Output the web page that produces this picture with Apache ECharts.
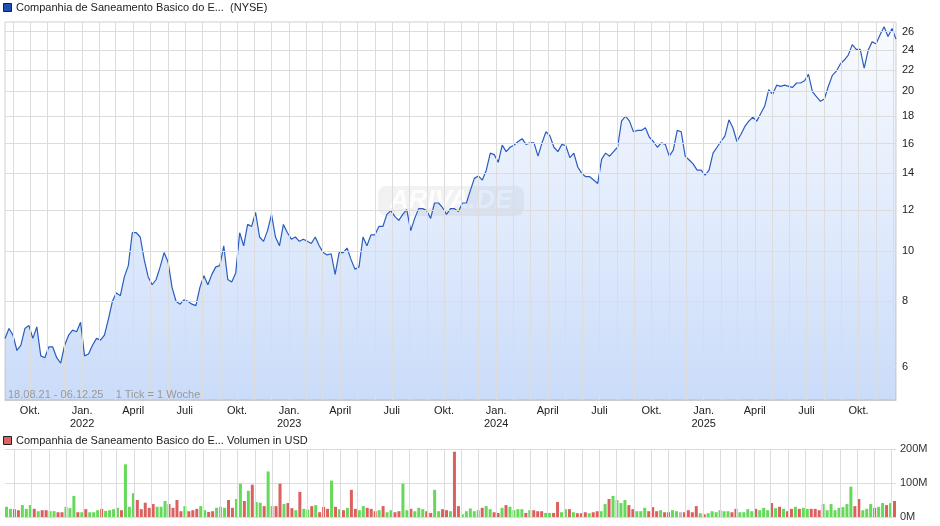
<!DOCTYPE html>
<html>
<head>
<meta charset="utf-8">
<script src="https://cdn.jsdelivr.net/npm/echarts@6/dist/echarts.min.js"></script>
<style>
  html, body { margin: 0; padding: 0; background: #fff; }
  #chart { width: 940px; height: 526px; }
</style>
</head>
<body>
<div id="chart"></div>
<script>
// weekly closing prices in USD, 18.08.21 - 06.12.25
const prices = [
  6.8, 7.1, 6.9, 6.45, 6.6, 7.1, 7.2, 6.8, 7.15, 6.3, 6.25, 6.55, 6.55, 6.25, 6.1, 6.6,
  6.9, 7.05, 7.0, 7.3, 6.3, 6.35, 6.6, 6.8, 6.75, 6.9, 7.4, 8.0, 8.3, 8.2, 8.9, 9.35,
  10.8, 10.8, 10.6, 9.6, 8.9, 8.6, 8.8, 9.3, 9.9, 9.5, 8.5, 8.0, 7.9, 8.05, 8.0, 7.9,
  7.85, 8.5, 8.95, 8.6, 9.0, 9.3, 9.35, 10.2, 8.8, 8.7, 9.05, 10.8, 10.2, 11.2, 11.1, 11.8,
  10.6, 10.4, 10.9, 11.7, 10.6, 10.2, 11.2, 10.8, 10.5, 10.6, 10.4, 10.5, 10.4, 10.3, 10.6, 10.2,
  9.9, 9.8, 9.85, 9.0, 9.9, 9.9, 10.1, 9.6, 9.2, 9.3, 10.6, 10.2, 10.7, 10.7, 11.1, 11.1,
  11.7, 11.9, 11.6, 11.4, 11.7, 11.95, 10.9, 11.5, 12.0, 12.0, 11.9, 11.5, 12.3, 12.3, 12.05, 11.7,
  12.0, 12.0, 11.85, 12.3, 12.3, 13.0, 13.7, 13.85, 13.6, 14.2, 15.3, 15.2, 14.7, 15.85, 15.4, 15.7,
  15.85, 16.1, 16.3, 15.9, 16.0, 16.0, 15.1, 16.0, 16.8, 16.5, 15.7, 15.4, 15.9, 15.8, 15.0, 15.3,
  14.4, 14.0, 13.8, 13.8, 13.6, 13.4, 14.9, 15.3, 15.1, 15.4, 15.7, 17.6, 18.0, 17.6, 16.8, 16.9,
  16.9, 17.1, 16.4, 16.1, 15.7, 16.0, 15.9, 15.1, 15.5, 16.9, 16.8, 15.1, 14.85, 14.6, 14.2, 14.2,
  13.9, 14.2, 15.3, 15.7, 16.1, 16.5, 17.7, 17.1, 16.1, 16.6, 17.2, 17.6, 17.9, 17.6, 18.2, 18.8,
  20.2, 19.8, 20.6, 20.5, 20.6, 20.5, 20.4, 20.8, 20.8, 21.0, 21.6, 20.0, 19.6, 19.2, 19.4, 20.5,
  21.5, 21.9, 22.6, 23.0, 23.5, 24.6, 24.1, 24.1, 22.2, 24.0, 24.9, 24.7, 25.7, 26.6, 25.5, 26.4,
  25.2
];

// weekly volume in million USD
const volumes = [
  30, 24, 23, 20, 35, 24, 35, 24, 17, 20, 20, 17, 17, 14, 14, 30,
  26, 62, 14, 14, 23, 14, 14, 20, 24, 18, 20, 23, 27, 20, 155, 30,
  70, 50, 23, 42, 27, 38, 30, 30, 47, 38, 27, 50, 17, 32, 17, 20,
  24, 32, 20, 15, 17, 27, 30, 27, 50, 27, 53, 98, 47, 77, 95, 44,
  42, 32, 134, 32, 32, 98, 38, 41, 26, 20, 74, 24, 22, 32, 35, 14,
  30, 24, 107, 30, 23, 20, 27, 80, 24, 20, 32, 27, 24, 17, 20, 32,
  14, 20, 14, 17, 98, 20, 24, 17, 27, 23, 17, 12, 80, 17, 23, 20,
  17, 192, 32, 8, 17, 25, 17, 20, 27, 32, 23, 14, 12, 27, 35, 30,
  20, 23, 23, 12, 20, 20, 17, 17, 12, 12, 12, 44, 14, 23, 23, 14,
  11, 11, 14, 11, 14, 17, 17, 38, 53, 62, 50, 41, 50, 35, 23, 17,
  17, 27, 17, 29, 17, 20, 14, 14, 20, 17, 14, 14, 20, 14, 32, 11,
  8, 11, 17, 14, 20, 17, 17, 14, 24, 14, 14, 23, 17, 24, 20, 27,
  20, 41, 26, 30, 24, 17, 24, 30, 24, 27, 24, 24, 24, 20, 38, 20,
  38, 20, 27, 29, 38, 89, 32, 53, 20, 24, 38, 27, 30, 41, 35, 41,
  47
];
// 1 = up week, -1 = down week, 0 = unchanged
const volumeDir = [
  1, 1, -1, -1, 1, 1, 1, -1, 1, -1, -1, 1, 1, -1, -1, 1,
  1, 1, -1, 1, -1, 1, 1, 1, -1, 1, 1, 1, 1, -1, 1, 1,
  1, -1, -1, -1, -1, -1, 1, 1, 1, -1, -1, -1, -1, 1, -1, -1,
  -1, 1, 1, -1, -1, 1, 1, 1, -1, -1, 1, 1, -1, 1, -1, 1,
  1, -1, 1, 1, -1, -1, 1, -1, -1, 1, -1, 1, 1, -1, 1, -1,
  -1, -1, 1, -1, 1, -1, 1, -1, -1, 1, 1, -1, -1, -1, 1, -1,
  1, 1, -1, -1, 1, 1, -1, 1, 1, 1, -1, -1, 1, 1, -1, -1,
  1, -1, -1, 1, 1, 1, 1, 1, -1, 1, 1, -1, -1, 1, -1, 1,
  1, 1, 1, -1, 1, -1, -1, -1, 1, 1, -1, -1, 1, 1, -1, 1,
  -1, -1, -1, 1, -1, -1, 1, 1, -1, 1, 1, 1, 1, -1, -1, 1,
  1, 1, -1, -1, -1, 1, -1, -1, 1, 1, 0, -1, -1, -1, -1, 1,
  -1, 1, 1, 1, 1, 1, 1, -1, -1, 1, 1, 1, 1, -1, 1, 1,
  1, -1, 1, -1, 1, -1, -1, 1, -1, 1, 1, -1, -1, -1, 1, 1,
  1, 1, 1, 1, 1, 1, -1, -1, 1, 1, 1, -1, 1, 1, -1, 1,
  -1
];

const priceTicks = [6, 8, 10, 12, 14, 16, 18, 20, 22, 24, 26];
const monthNames = ['Jan.', 'Feb.', 'März', 'April', 'Mai', 'Juni', 'Juli', 'Aug.', 'Sep.', 'Okt.', 'Nov.', 'Dez.'];

const startTime = Date.UTC(2021, 7, 18);
const endTime = Date.UTC(2025, 11, 6);

const weekTimes = (n) => {
    let out = [];
    for (let i = 0; i < n; i++) out.push(startTime + i * (endTime - startTime) / (n - 1));
    return out;
};

const priceTimes = weekTimes(prices.length);
const volTimes = weekTimes(volumes.length);

// month gridlines with quarter labels
let monthLines = [];
let monthLinesPlain = [];
for (let y = 2021; y <= 2025; y++) {
    for (let m = 0; m < 12; m++) {
        let t = Date.UTC(y, m, 1);
        if (t <= startTime || t > endTime) continue;
        let quarter = m % 3 === 0;
        let text = monthNames[m] + (m === 0 ? '\n' + y : '');
        monthLines.push({
            xAxis: t,
            label: { show: quarter, formatter: text }
        });
        monthLinesPlain.push({ xAxis: t });
    }
}

const gridLine = { color: '#dcdcdc', width: 1, type: 'solid' };
const textFont = 'Liberation Sans, Arial, sans-serif';

let chart = echarts.init(document.getElementById('chart'));

let option = {
    animation: false,
    backgroundColor: '#fff',
    textStyle: { fontFamily: textFont },
    grid: [
        { left: 5, right: 44, top: 22, height: 378, show: true, borderColor: '#d0d0d0', borderWidth: 1 },
        { left: 5, right: 44, top: 449, height: 68, show: false }
    ],
    xAxis: [
        {
            type: 'time', gridIndex: 0, min: startTime, max: endTime,
            axisLabel: { show: false }, axisTick: { show: false },
            splitLine: { show: false },
            axisLine: { lineStyle: { color: '#cccccc' } }
        },
        {
            type: 'time', gridIndex: 1, min: startTime, max: endTime,
            axisLabel: { show: false }, axisTick: { show: false },
            splitLine: { show: false },
            axisLine: { show: false }
        }
    ],
    yAxis: [
        {
            type: 'value', gridIndex: 0, position: 'right',
            min: Math.log(6) - 33 / 228.5, max: Math.log(26) + 10 / 228.5,
            axisLabel: { show: false }, axisTick: { show: false },
            splitLine: { show: false }, axisLine: { show: false }
        },
        {
            type: 'value', gridIndex: 1, position: 'right',
            min: 0, max: 200, interval: 100,
            axisLabel: { formatter: '{value}M', color: '#333', fontSize: 11, margin: 4 },
            axisTick: { show: false }, axisLine: { show: false },
            splitLine: { lineStyle: gridLine }
        }
    ],
    series: [
        {
            // gridlines for the price panel, drawn beneath the area
            type: 'line', xAxisIndex: 0, yAxisIndex: 0, z: 1,
            data: [], silent: true,
            markLine: {
                silent: true, symbol: 'none', animation: false,
                lineStyle: gridLine,
                label: { position: 'start', color: '#222', fontSize: 11, distance: 4, lineHeight: 13 },
                data: monthLines.concat(priceTicks.map(v => ({
                    yAxis: Math.log(v),
                    label: { show: true, position: 'end', formatter: String(v), distance: 6 }
                })))
            }
        },
        {
            type: 'line', xAxisIndex: 0, yAxisIndex: 0, z: 2,
            data: prices.map((p, i) => [priceTimes[i], Math.log(p)]),
            showSymbol: false, symbol: 'none',
            lineStyle: { color: '#2a5cc0', width: 1.2 },
            areaStyle: {
                color: new echarts.graphic.LinearGradient(0, 0, 0, 1, [
                    { offset: 0, color: 'rgba(105,155,240,0.06)' },
                    { offset: 1, color: 'rgba(105,155,240,0.5)' }
                ]),
                origin: 'start'
            }
        },
        {
            type: 'bar', xAxisIndex: 1, yAxisIndex: 1, z: 2,
            barWidth: 3,
            data: volumes.map((v, i) => ({
                value: [volTimes[i], v],
                itemStyle: { color: volumeDir[i] > 0 ? '#66d85a' : volumeDir[i] < 0 ? '#dc6060' : '#bbbbbb' }
            })),
            markLine: {
                silent: true, symbol: 'none', animation: false,
                lineStyle: gridLine, label: { show: false },
                data: monthLinesPlain
            }
        }
    ],
    graphic: [
        {
            type: 'group', left: 378, top: 186, z: 0,
            children: [
                { type: 'rect', shape: { x: 0, y: 0, width: 146, height: 30, r: 8 }, style: { fill: 'rgba(0,0,0,0.05)' } },
                { type: 'text', x: 73, y: 15, style: { text: 'ARIVA.DE', fill: 'rgba(255,255,255,0.85)', font: 'italic bold 26px Liberation Sans', align: 'center', verticalAlign: 'middle' } }
            ]
        },
        { type: 'rect', left: 3, top: 3, shape: { width: 8, height: 8 }, style: { fill: '#1f4fb0', stroke: '#222', lineWidth: 1 } },
        { type: 'text', left: 16, top: 2, style: { text: 'Companhia de Saneamento Basico do E...  (NYSE)', fill: '#222', font: '11px Liberation Sans' } },
        { type: 'rect', left: 3, top: 436, shape: { width: 8, height: 8 }, style: { fill: '#dc6464', stroke: '#222', lineWidth: 1 } },
        { type: 'text', left: 16, top: 435, style: { text: 'Companhia de Saneamento Basico do E... Volumen in USD', fill: '#222', font: '11px Liberation Sans' } },
        { type: 'text', left: 8, top: 389, z: 10, style: { text: '18.08.21 - 06.12.25    1 Tick = 1 Woche', fill: '#999', font: '11px Liberation Sans' } }
    ]
};

chart.setOption(option);
</script>
</body>
</html>
